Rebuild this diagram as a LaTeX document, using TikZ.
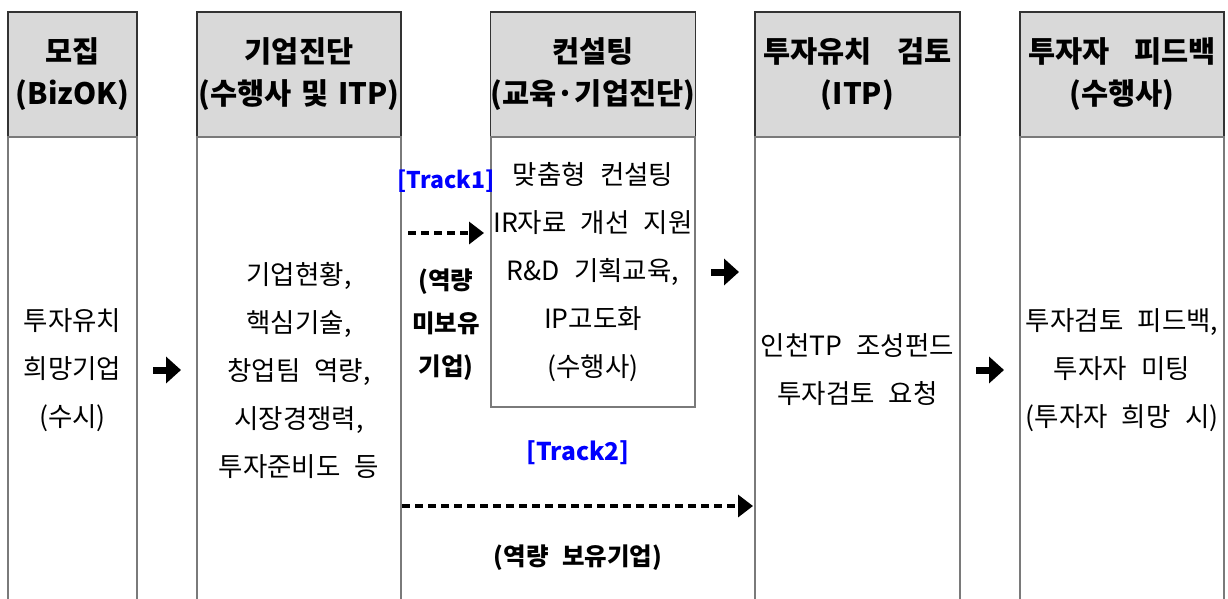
\documentclass[tikz,border=0pt]{standalone}
\usepackage{fontspec}
\setmainfont{Noto Sans CJK KR}[WordSpace=2.4]
\usetikzlibrary{arrows.meta,positioning}
\definecolor{headgray}{HTML}{D9D9D9}
\definecolor{edgegray}{HTML}{7A7A7A}
\definecolor{trackblue}{HTML}{0000FF}
\newcommand\headgap[1]{\spaceskip=#1em\relax}

\begin{document}
\begin{tikzpicture}[x=1pt, y=-1pt,
  head/.style={draw=black!80, fill=headgray, line width=1.2pt, outer sep=0pt, inner sep=0pt,
    minimum height=125pt, align=center,
    font=\bfseries\fontsize{29.5}{42}\selectfont\headgap{0.85}},
  tighthead/.style={head, font=\bfseries\fontsize{29.5}{42}\selectfont\headgap{0.33}},
  body/.style={draw=edgegray, line width=1.5pt, outer sep=0pt, inner sep=0pt,
    align=center, font=\fontsize{26.5}{48}\selectfont},
  heavy/.style={line width=7pt, -{Triangle[length=15pt,width=26pt]},
    shorten <=16pt, shorten >=16pt},
  dasharrow/.style={line width=3.4pt, dash pattern=on 8pt off 5pt,
    -{Triangle[length=15pt,width=22pt]}},
  note/.style={inner sep=0pt, align=center, font=\bfseries\fontsize{24.5}{43}\selectfont},
  track/.style={note, text=trackblue}]

  \clip (0,0) rectangle (1228,598);

  %% header row
  \node[head, minimum width=129pt] (h1) at (72.5,74.5) {모집\\(BizOK)};
  \node[tighthead, minimum width=204pt] (h2) at (299,74.5) {기업진단\\(수행사 및 ITP)};
  \node[head, minimum width=204pt] (h3) at (593,74.5) {컨설팅\\(교육·기업진단)};
  \node[head, minimum width=205pt] (h4) at (857.5,74.5) {투자유치 검토\\(ITP)};
  \node[head, minimum width=204pt] (h5) at (1122,74.5) {투자자 피드백\\(수행사)};

  %% body cells
  \node[body, minimum width=129pt, minimum height=466pt, below=0pt of h1] (b1)
    {투자유치\\희망기업\\(수시)};
  \node[body, minimum width=204pt, minimum height=466pt, below=0pt of h2] (b2)
    {기업현황,\\핵심기술,\\창업팀 역량,\\시장경쟁력,\\투자준비도 등};
  \node[body, minimum width=204pt, minimum height=270pt, below=0pt of h3] (b3)
    {맞춤형 컨설팅\\IR자료 개선 지원\\R\&D 기획교육,\\IP고도화\\(수행사)};
  \node[body, minimum width=205pt, minimum height=466pt, below=0pt of h4] (b4)
    {인천TP 조성펀드\\투자검토 요청};
  \node[body, minimum width=204pt, minimum height=466pt, below=0pt of h5] (b5)
    {투자검토 피드백,\\투자자 미팅\\(투자자 희망 시)};

  \draw[heavy] (b1.east) -- (b2.west); %% 1->2
  \draw[heavy] (b3.east) -- (b3.east -| b4.west); %% 3->4
  \draw[heavy] (b4.east) -- (b5.west); %% 4->5

  %% track 1
  \node[track, font=\bfseries\fontsize{23}{26}\selectfont] (t1) at (446,181) {[Track1]};
  \coordinate (k1) at (446,233);
  \draw[dasharrow, shorten <=7pt, shorten >=7pt] (k1 -| b2.east) -- (k1 -| b3.west);
  \node[note] (m1) at (446,325) {(역량\\미보유\\기업)};

  %% track 2
  \node[track, font=\bfseries\fontsize{24.5}{30}\selectfont] (t2) at (578,453) {[Track2]};
  \coordinate (k2) at (578,506);
  \draw[dasharrow, shorten <=1pt, shorten >=2pt] (k2 -| b2.east) -- (k2 -| b4.west);
  \node[note] (m2) at (578,558) {(역량 보유기업)};

\end{tikzpicture}
\end{document}
